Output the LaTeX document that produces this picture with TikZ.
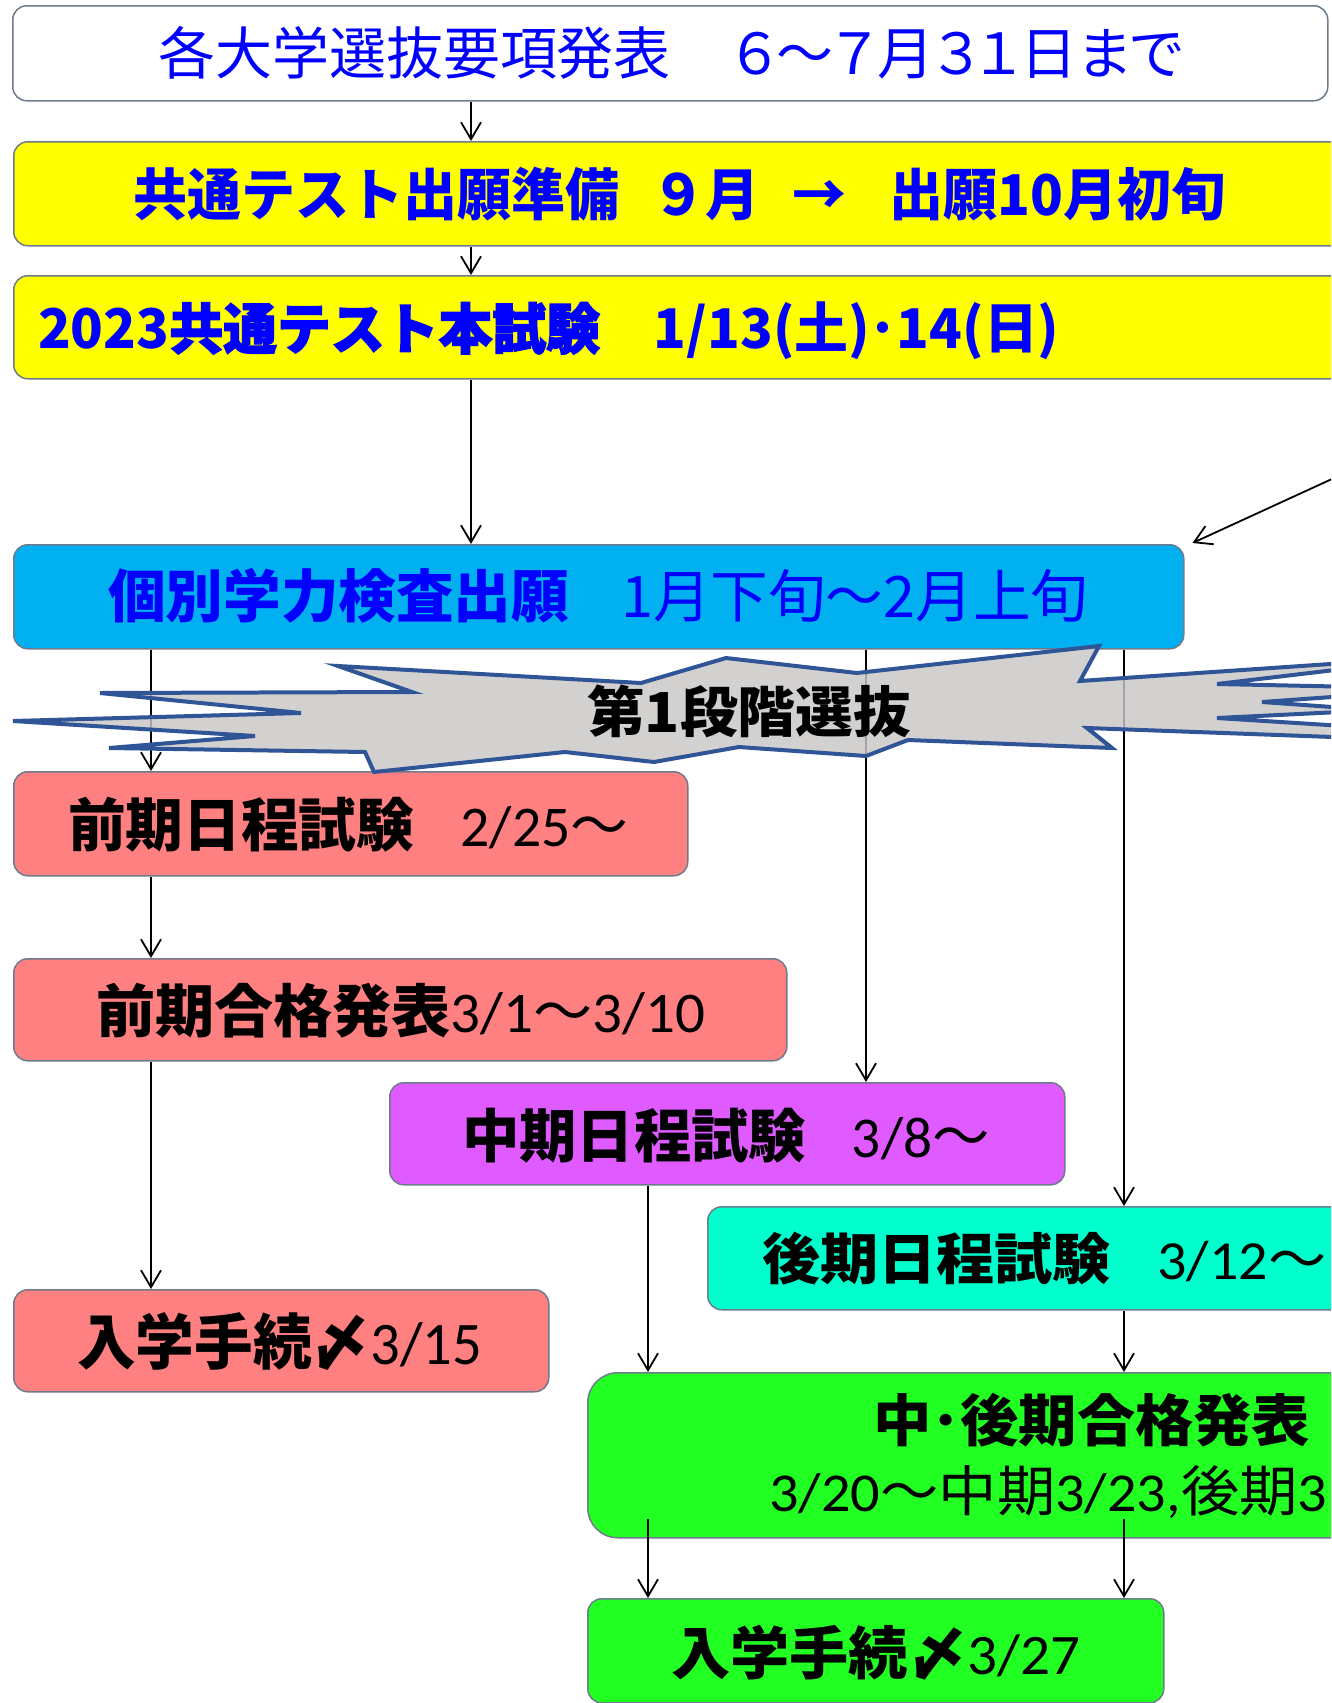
\documentclass[tikz,border=0pt]{standalone}
\usepackage{fontspec}
\usepackage{graphicx}
\usetikzlibrary{arrows.meta,calc}
\newfontfamily\jp{Noto Sans CJK JP}
\newfontfamily\jpp{Noto Sans CJK JP}[RawFeature=+palt]
\newfontfamily\jpheavy{Noto Sans CJK JP}[FakeBold=2.4]
\newfontfamily\latf{Carlito}
\newcommand{\fitto}[3]{\resizebox*{#1pt}{#2pt}{#3}}
\definecolor{tblue}{HTML}{0000FF}
\definecolor{bord}{HTML}{6D7B8D}
\definecolor{yel}{HTML}{FFFF00}
\definecolor{cyanb}{HTML}{00B0F0}
\definecolor{salmonb}{HTML}{FF8080}
\definecolor{violetb}{HTML}{DF5BFF}
\definecolor{aquab}{HTML}{00FFCC}
\definecolor{greenb}{HTML}{22FF22}
\definecolor{starfill}{HTML}{C9C6C6}
\definecolor{starline}{HTML}{2F5597}
\begin{document}
\begin{tikzpicture}[x=1pt,y=-1pt,
  box/.style={draw=bord, line width=1.5pt, rounded corners=14pt, inner sep=0pt, anchor=north west},
  txt/.style={inner sep=0pt, anchor=north west},
  arr/.style={draw=black, line width=1.8pt, -{Straight Barb[length=17pt,width=20pt,line width=1.8pt]}}]
\useasboundingbox (0,0) rectangle (1331,1703);
\clip (0,0) rectangle (1331,1703);
% boxes
\node[box, fill=white, minimum width=1315pt, minimum height=95pt] (b1) at (12,5) {};
\node[box, fill=yel, minimum width=1400pt, minimum height=104pt] (b2) at (13,141) {};
\node[box, fill=yel, minimum width=1400pt, minimum height=103pt] (b3) at (13,275) {};
\node[box, fill=cyanb, minimum width=1170pt, minimum height=104pt] (b4) at (13,544) {};
\node[box, fill=salmonb, minimum width=674pt, minimum height=104pt] (b5) at (13,771) {};
\node[box, fill=salmonb, minimum width=773pt, minimum height=102pt] (b6) at (13,958) {};
\node[box, fill=violetb, minimum width=675pt, minimum height=102pt] (b7) at (389,1082) {};
\node[box, fill=aquab, minimum width=700pt, minimum height=103pt] (b8) at (707,1206) {};
\node[box, fill=salmonb, minimum width=535pt, minimum height=102pt] (b9) at (13,1289) {};
\node[box, fill=greenb, rounded corners=30pt, minimum width=1000pt, minimum height=165pt] (b10) at (587,1372) {};
\node[box, fill=greenb, minimum width=576pt, minimum height=104pt] (b11) at (587,1598) {};
% texts
\node[txt, text=tblue] (t1) at (158,26) {\fitto{1024}{53}{\jp 各大学選抜要項発表\hspace{1.1em}{\jpp ６～７月３１日まで}}};
\node[txt, text=tblue] (t2) at (133,167) {\fitto{1092}{54}{\jp\bfseries 共通テスト出願準備\hspace{0.6em}９月\hspace{0.6em}→\hspace{0.8em}出願10月初旬}};
\node[txt, text=tblue] (t3) at (38,302) {\fitto{1021}{58}{\jp\bfseries 2023{\jpheavy\bfseries 共通テスト本試験}\hspace{1em}1/13(土)･14(日)}};
\node[txt, text=tblue] (t4) at (108,568) {\fitto{980}{55}{{\jp\bfseries 個別学力検査出願}\hspace{0.9em}{\jp 1月下旬～2月上旬}}};
\node[txt] (t5) at (68,797) {\fitto{560}{55}{{\jp\bfseries 前期日程試験}\hspace{0.8em}{\latf 2/25}{\jp ～}}};
\node[txt] (t6) at (96,983) {\fitto{609}{55}{{\jp\bfseries 前期合格発表}{\latf 3/1}{\jp ～}{\latf 3/10}}};
\node[txt] (t7) at (462,1108) {\fitto{527}{55}{{\jp\bfseries 中期日程試験}\hspace{0.8em}{\latf 3/8}{\jp ～}}};
\node[txt] (t8) at (762,1232) {\fitto{564}{53}{{\jp\bfseries 後期日程試験}\hspace{0.8em}{\latf 3/12}{\jp ～}}};
\node[txt] (t9) at (77,1312) {\fitto{405}{58}{{\jp\bfseries 入学手続〆}{\latf 3/15}}};
\node[txt] (t10a) at (873,1393) {\fitto{437}{54}{\jp\bfseries 中･後期合格発表}};
\node[txt] (t10b) at (769,1465) {\fitto{558}{53}{{\latf 3/20}{\jp ～中期}{\latf 3/23,}{\jp 後期}{\latf 3}}};
\node[txt] (t11) at (671,1625) {\fitto{409}{55}{{\jp\bfseries 入学手続〆}{\latf 3/27}}};
% connectors
\coordinate (xa) at (471,0);
\coordinate (xb) at (151,0);
\coordinate (xc) at (866,0);
\coordinate (xd) at (1124,0);
\coordinate (xe) at (648,0);
\coordinate (src) at (1345,473);
\draw[arr] (xa |- b1.south) -- (xa |- b2.north);
\draw[arr] (xa |- b2.south) -- (xa |- b3.north);
\draw[arr] (xa |- b3.south) -- (xa |- b4.north);
\draw[arr] (src) -- ($(b4.north east)+(8,-1)$);
\draw[arr] (xb |- b4.south) -- (xb |- b5.north);
\draw[arr] (xc |- b4.south) -- (xc |- b7.north);
\draw[arr] (xd |- b4.south) -- (xd |- b8.north);
\draw[arr] (xb |- b5.south) -- (xb |- b6.north);
\draw[arr] (xb |- b6.south) -- (xb |- b9.north);
\draw[arr] (xe |- b7.south) -- (xe |- b10.north);
\draw[arr] (xd |- b8.south) -- (xd |- b10.north);
\draw[arr] ($(xe |- b10.south)+(0,-20)$) -- (xe |- b11.north);
\draw[arr] ($(xd |- b10.south)+(0,-20)$) -- (xd |- b11.north);
% star
\draw[fill=starfill, fill opacity=0.82, draw=starline, line width=4pt, line join=miter]
  (13,721) -- (301,713) -- (100,693) -- (412,692) -- (338,666) -- (641,683) -- (726,658)
  -- (857,673) -- (1099,646) -- (1080,681) -- (1360,662) -- (1360,667)
  -- (1217,684) -- (1360,687) -- (1360,695) -- (1262,702) -- (1360,709)
  -- (1360,711) -- (1217,718) -- (1360,727) -- (1360,738)
  -- (1087,728) -- (1112,748) -- (908,740) -- (866,756) -- (739,747) -- (654,762)
  -- (565,752) -- (374,772) -- (365,752) -- (109,748) -- (255,736) -- cycle;
\node[txt] (st) at (587,685) {\fitto{324}{53}{\jp\bfseries 第1段階選抜}};
\end{tikzpicture}
\end{document}
